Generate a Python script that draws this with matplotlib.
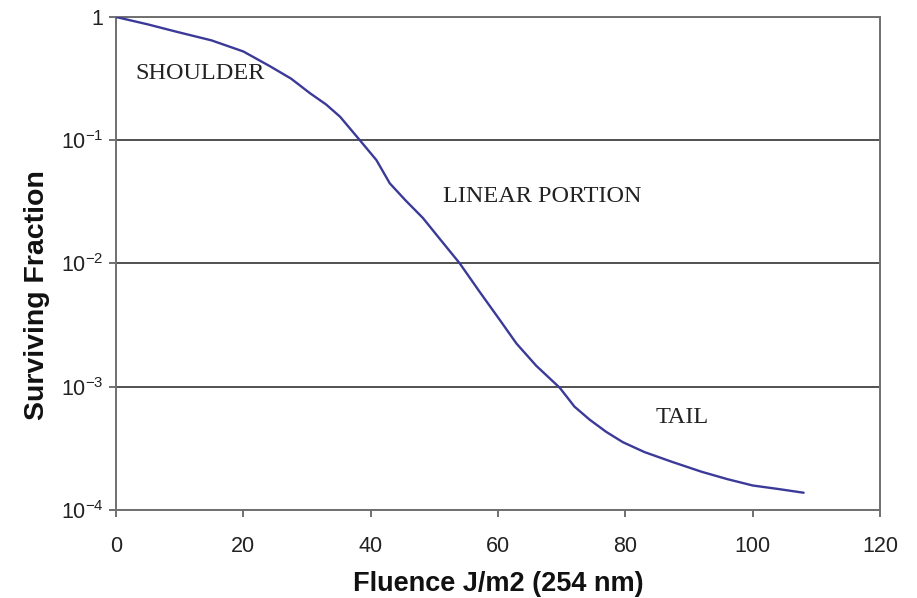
import matplotlib
matplotlib.use('Agg')
import matplotlib.pyplot as plt
import numpy as np
from matplotlib.ticker import FixedLocator, FixedFormatter, NullLocator

fluence = [0, 5, 9.5, 15, 20, 24.2, 27.5, 30.5, 33, 35.2, 38.3, 40.9, 43,
           45.5, 48.2, 51, 54, 57, 60.3, 62.9, 66, 69.7, 72, 74.4, 77, 79.6,
           83, 87.4, 92, 96, 100, 104, 108]
surviving = [1.0, 0.871, 0.759, 0.646, 0.525, 0.398, 0.316, 0.240, 0.195,
             0.155, 0.1, 0.069, 0.0447, 0.0324, 0.0234, 0.0155, 0.01,
             0.0060, 0.00347, 0.00224, 0.00148, 0.00098, 0.00069, 0.00054,
             0.00043, 0.000355, 0.000295, 0.000245, 0.000204, 0.000178,
             0.000158, 0.000148, 0.000138]

y_ticks = [1e-4, 1e-3, 1e-2, 1e-1, 1]
y_tick_labels = [r'$10^{-4}$', r'$10^{-3}$', r'$10^{-2}$', r'$10^{-1}$', '1']
x_ticks = [0, 20, 40, 60, 80, 100, 120]

regions = ['SHOULDER', 'LINEAR PORTION', 'TAIL']
region_x = [3, 51.3, 84.8]
region_y = [0.35, 0.035, 0.00056]

plt.rcParams['mathtext.fontset'] = 'custom'
plt.rcParams['mathtext.rm'] = 'Liberation Sans'
plt.rcParams['mathtext.it'] = 'Liberation Sans'
plt.rcParams['font.family'] = 'Liberation Sans'

fig = plt.figure(figsize=(9.17, 5.98), dpi=100)
ax = fig.add_axes([0.1265, 0.1472, 0.8332, 0.8244])

ax.plot(fluence, surviving, color='#3b3a98', linewidth=1.7, zorder=3,
        solid_joinstyle='round', solid_capstyle='round')
ax.set_yscale('log')
ax.set_xlim(0, 120)
ax.set_ylim(1e-4, 1)

ax.yaxis.set_major_locator(FixedLocator(y_ticks))
ax.yaxis.set_major_formatter(FixedFormatter(y_tick_labels))
ax.yaxis.set_minor_locator(NullLocator())
ax.set_xticks(x_ticks)

ax.grid(axis='y', color='#505050', linewidth=1.4)
for s in ax.spines.values():
    s.set_color('#707070')
    s.set_linewidth(1.4)
ax.tick_params(direction='out', length=5, width=1.4, color='#707070',
               labelsize=15.5, labelcolor='#222222')
ax.tick_params(axis='x', pad=14)
ax.tick_params(axis='y', pad=4)

ax.set_xlabel('Fluence J/m2 (254 nm)', fontsize=19.5, fontweight='bold',
              color='#111111')
ax.xaxis.set_label_coords(0.5, -0.124)
ax.set_ylabel('Surviving Fraction', fontsize=20.5, fontweight='bold',
              color='#111111')
ax.yaxis.set_label_coords(-0.086, 0.436)

for name, x, y in zip(regions, region_x, region_y):
    ax.text(x, y, name, fontsize=17.5, family='Liberation Serif',
            color='#222222', va='center', ha='left')

fig.savefig('out.png', dpi=100)
